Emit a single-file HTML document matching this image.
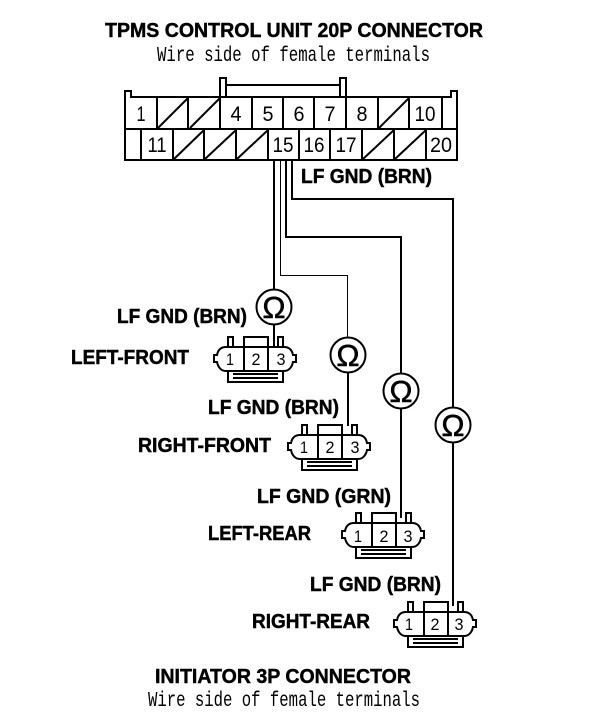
<!DOCTYPE html>
<html><head><meta charset="utf-8"><style>
html,body{margin:0;padding:0;background:#fff;width:608px;height:728px;overflow:hidden}
svg{display:block}
.b{font:bold 20px "Liberation Sans",sans-serif;fill:#000;stroke:#000;stroke-width:.45}
.m{font:21px "Liberation Mono",monospace;fill:#000}
.n{font:21px "Liberation Sans",sans-serif;fill:#000;text-anchor:middle}
.c{font:17px "Liberation Sans",sans-serif;fill:#000;text-anchor:middle}
.o{font:31px "Liberation Sans",sans-serif;fill:#000;text-anchor:middle;stroke:#000;stroke-width:.5}
</style></head><body>
<svg width="608" height="728" viewBox="0 0 608 728" xmlns="http://www.w3.org/2000/svg">
<defs>
<g id="k" fill="none" stroke="#000" stroke-width="2">
<path d="M-29 -12H29C34 -12 37 -9 38 -4H41V3H38C37 8 34 12 29 12H-29C-34 12 -37 8 -38 3H-41V-4H-38C-37 -9 -34 -12 -29 -12Z" fill="#fff"/>
<path d="M-27 -12V-22H-22V-12M23 -12V-22H28V-12"/>
<path d="M-11 13V-22H13V13"/>
<path d="M-27 12V23H28V12M-22 15H23M-22 19H23"/>
</g>
</defs>
<rect width="608" height="728" fill="#fff"/>

<text class="b" x="105" y="37" textLength="378" lengthAdjust="spacingAndGlyphs">TPMS CONTROL UNIT 20P CONNECTOR</text>
<text class="m" x="157" y="61" textLength="273" lengthAdjust="spacingAndGlyphs">Wire side of female terminals</text>

<g fill="none" stroke="#000" stroke-width="2" shape-rendering="crispEdges">
<path d="M125 160V91H131V97H451V91H457V160Z"/>
<path d="M125 129H457"/>
<path d="M220 97V78H226V97M340 97V78H346V97M226 85H340"/>
<path d="M157 97V129M188 97V129M220 97V129M252 97V129M283 97V129M314 97V129M346 97V129M378 97V129M409 97V129M442 97V129"/>
<path d="M141 129V160M173 129V160M204 129V160M236 129V160M268 129V160M299 129V160M330 129V160M362 129V160M394 129V160M426 129V160"/>
<path d="M274 160V290M286 160V237H401V373M292 160V199H453V407"/>
<path d="M401 409V518M453 442V606M348 373V426"/>
</g>
<path d="M280.500 160V275.500H347.500V337" fill="none" stroke="#000" stroke-width="1" shape-rendering="crispEdges"/>

<g fill="none" stroke="#000" stroke-width="2">
<path d="M158 128L188 98M190 128L220 98M379 128L409 98"/>
<path d="M174 159L204 130M205 159L236 130M237 159L268 130M363 159L394 130M395 159L426 130"/>
</g>

<text class="n" x="141" y="121" textLength="9" lengthAdjust="spacingAndGlyphs">1</text>
<text class="n" x="236" y="121" textLength="11" lengthAdjust="spacingAndGlyphs">4</text>
<text class="n" x="268" y="121" textLength="11" lengthAdjust="spacingAndGlyphs">5</text>
<text class="n" x="299" y="121" textLength="11" lengthAdjust="spacingAndGlyphs">6</text>
<text class="n" x="330" y="121" textLength="11" lengthAdjust="spacingAndGlyphs">7</text>
<text class="n" x="362" y="121" textLength="11" lengthAdjust="spacingAndGlyphs">8</text>
<text class="n" x="425" y="121" textLength="21" lengthAdjust="spacingAndGlyphs">10</text>
<text class="n" x="157" y="152" textLength="19" lengthAdjust="spacingAndGlyphs">11</text>
<text class="n" x="283" y="152" textLength="21" lengthAdjust="spacingAndGlyphs">15</text>
<text class="n" x="314" y="152" textLength="21" lengthAdjust="spacingAndGlyphs">16</text>
<text class="n" x="346" y="152" textLength="21" lengthAdjust="spacingAndGlyphs">17</text>
<text class="n" x="441" y="152" textLength="22" lengthAdjust="spacingAndGlyphs">20</text>

<text class="b" x="301" y="183" textLength="131" lengthAdjust="spacingAndGlyphs">LF GND (BRN)</text>

<use href="#k" x="255" y="359"/><use href="#k" x="329" y="447"/><use href="#k" x="383" y="535"/><use href="#k" x="435" y="624"/>

<path d="M274 324V347" stroke="#000" stroke-width="2" shape-rendering="crispEdges"/>
<g fill="#fff" stroke="#000" stroke-width="2">
<circle cx="274" cy="307" r="17.500"/><circle cx="348" cy="355" r="17.500"/><circle cx="401" cy="391" r="17.500"/><circle cx="453" cy="425" r="17.500"/>
</g>
<text class="o" x="274" y="318">Ω</text><text class="o" x="348" y="366">Ω</text><text class="o" x="401" y="402">Ω</text><text class="o" x="453" y="436">Ω</text>

<text class="c" x="230" y="365" textLength="8" lengthAdjust="spacingAndGlyphs">1</text><text class="c" x="256" y="365" textLength="9" lengthAdjust="spacingAndGlyphs">2</text><text class="c" x="281" y="365" textLength="9" lengthAdjust="spacingAndGlyphs">3</text>
<text class="c" x="304" y="453" textLength="8" lengthAdjust="spacingAndGlyphs">1</text><text class="c" x="330" y="453" textLength="9" lengthAdjust="spacingAndGlyphs">2</text><text class="c" x="355" y="453" textLength="9" lengthAdjust="spacingAndGlyphs">3</text>
<text class="c" x="358" y="542" textLength="8" lengthAdjust="spacingAndGlyphs">1</text><text class="c" x="384" y="542" textLength="9" lengthAdjust="spacingAndGlyphs">2</text><text class="c" x="408" y="542" textLength="9" lengthAdjust="spacingAndGlyphs">3</text>
<text class="c" x="409" y="630" textLength="8" lengthAdjust="spacingAndGlyphs">1</text><text class="c" x="435" y="630" textLength="9" lengthAdjust="spacingAndGlyphs">2</text><text class="c" x="459" y="630" textLength="9" lengthAdjust="spacingAndGlyphs">3</text>

<text class="b" x="117" y="323" textLength="130" lengthAdjust="spacingAndGlyphs">LF GND (BRN)</text>
<text class="b" x="71" y="364" textLength="118" lengthAdjust="spacingAndGlyphs">LEFT-FRONT</text>
<text class="b" x="208" y="414" textLength="131" lengthAdjust="spacingAndGlyphs">LF GND (BRN)</text>
<text class="b" x="138" y="452" textLength="133" lengthAdjust="spacingAndGlyphs">RIGHT-FRONT</text>
<text class="b" x="257" y="503" textLength="134" lengthAdjust="spacingAndGlyphs">LF GND (GRN)</text>
<text class="b" x="208" y="540" textLength="103" lengthAdjust="spacingAndGlyphs">LEFT-REAR</text>
<text class="b" x="310" y="591" textLength="131" lengthAdjust="spacingAndGlyphs">LF GND (BRN)</text>
<text class="b" x="252" y="628" textLength="118" lengthAdjust="spacingAndGlyphs">RIGHT-REAR</text>
<text class="b" x="155" y="683" textLength="256" lengthAdjust="spacingAndGlyphs">INITIATOR 3P CONNECTOR</text>
<text class="m" x="148" y="706" textLength="272" lengthAdjust="spacingAndGlyphs">Wire side of female terminals</text>
</svg>
</body></html>
